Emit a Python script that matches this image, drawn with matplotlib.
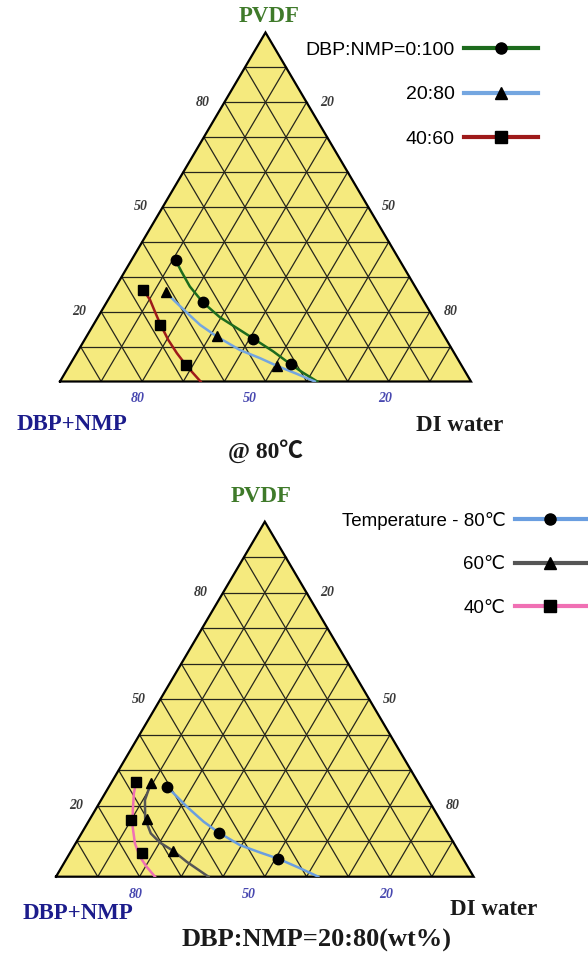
import numpy as np
import matplotlib
matplotlib.use('Agg')
import matplotlib.pyplot as plt
from matplotlib.lines import Line2D

# 上图: 80℃ 下不同 DBP:NMP 比例 (PVDF wt%, DI water wt%)
top_labels = ['DBP:NMP=0:100', '20:80', '40:60']
top_colors = ['#1d6b1d', '#74a6e0', '#9e1a1a']
top_markers = ['o', '^', 's']
top_pvdf = [[34.7, 22.7, 12.3, 4.9], [25.6, 12.9, 4.5], [26.3, 16.3, 4.7]]
top_water = [[10.8, 23.4, 40.9, 53.7], [13.0, 31.7, 50.5], [7.1, 16.3, 28.3]]
# 曲线
top_curve_pvdf = [[34.7, 31.5, 27.2, 22.7, 18.4, 15.3, 12.3, 8.6, 4.9, 2.5, 0],
                  [25.6, 23.4, 19.8, 16.2, 12.9, 9.0, 6.7, 4.5, 2.2, 0],
                  [26.3, 23.4, 20.0, 16.3, 11.9, 8.1, 4.7, 2.3, 0]]
top_curve_water = [[10.8, 13.8, 18.0, 23.4, 29.7, 35.4, 40.9, 47.6, 53.7, 57.9, 62.6],
                   [13.0, 15.9, 20.9, 26.0, 31.7, 39.3, 45.3, 50.5, 56.5, 62.0],
                   [7.1, 10.2, 13.1, 16.3, 20.4, 24.4, 28.3, 31.3, 34.2]]

# 下图: DBP:NMP=20:80 下不同温度
bot_labels = ['Temperature - 80\u2103', '60\u2103', '40\u2103']
bot_colors = ['#6a9ee0', '#555555', '#f070b4']
bot_markers = ['o', '^', 's']
bot_pvdf = [[25.4, 12.4, 5.1], [26.5, 16.3, 7.3], [26.8, 16.0, 6.6]]
bot_water = [[13.8, 32.8, 50.6], [9.5, 13.6, 24.4], [5.8, 9.9, 17.2]]
bot_curve_pvdf = [[25.4, 23.5, 19.7, 15.5, 12.4, 8.9, 6.8, 5.1, 2.4, 0],
                  [26.5, 21.6, 16.3, 12.2, 9.6, 7.3, 4.2, 0],
                  [26.8, 23.5, 18.8, 14.1, 9.4, 5.6, 2.8, 0]]
bot_curve_water = [[13.8, 16.4, 21.5, 27.6, 32.8, 39.6, 45.5, 50.6, 57.2, 62.8],
                   [9.5, 10.5, 13.2, 16.6, 20.1, 24.4, 29.2, 36.5],
                   [5.8, 6.9, 9.0, 11.3, 14.2, 17.3, 20.3, 23.7]]

side_ticks = [80, 50, 20]

SERIF = ['Liberation Serif', 'Noto Sans CJK SC']
SANS = ['Liberation Sans', 'DejaVu Sans']


def to_xy(p, w):
    p = np.asarray(p) / 100.0
    w = np.asarray(w) / 100.0
    return w + p / 2, p


def draw_ternary(ax, pvdf, water, cpvdf, cwater, colors, markers):
    ax.set_xlim(0, 1)
    ax.set_ylim(0, 1)
    ax.axis('off')
    ax.fill([0, 1, 0.5], [0, 0, 1], color='#f5ea7e', zorder=0)
    # 网格
    for k in range(1, 10):
        f = k / 10
        x, y = to_xy([f * 100, f * 100], [0, (1 - f) * 100])
        ax.plot(x, y, color='#26261c', lw=0.9, zorder=1)
        x, y = to_xy([0, (1 - f) * 100], [f * 100, f * 100])
        ax.plot(x, y, color='#26261c', lw=0.9, zorder=1)
        x, y = to_xy([0, (1 - f) * 100], [(1 - f) * 100, 0])
        ax.plot(x, y, color='#26261c', lw=0.9, zorder=1)
    ax.plot([0, 1, 0.5, 0], [0, 0, 1, 0], color='black', lw=1.6, zorder=2,
            solid_joinstyle='miter', clip_on=False)
    for i in range(len(pvdf)):
        x, y = to_xy(cpvdf[i], cwater[i])
        ax.plot(x, y, color=colors[i], lw=1.8, zorder=3, solid_joinstyle='round')
        x, y = to_xy(pvdf[i], water[i])
        ax.plot(x, y, ls='none', marker=markers[i], color='black', ms=7.5, zorder=4)
    # 刻度标签
    for v in side_ticks:
        x, y = to_xy(v, 0)
        ax.annotate(str(v), (x, y), xytext=(-22, 0), textcoords='offset pixels',
                    ha='center', va='center', family=SERIF, weight='bold',
                    style='italic', fontsize=10, color='#3a3a3a')
        x, y = to_xy(v, 100 - v)
        ax.annotate(str(100 - v), (x, y), xytext=(21, 0), textcoords='offset pixels',
                    ha='center', va='center', family=SERIF, weight='bold',
                    style='italic', fontsize=10, color='#3a3a3a')
    for v, pos in zip(side_ticks, [0.19, 0.462, 0.79]):
        ax.text(pos, -0.05, str(v), transform=ax.transAxes, ha='center', va='center',
                family=SERIF, weight='bold', style='italic', fontsize=10,
                color='#4848b0')


def add_legend(ax, labels, colors, markers, anchor, fs):
    handles = [Line2D([], [], color=c, lw=3, marker=m, mfc='black', mec='black', ms=8)
               for c, m in zip(colors, markers)]
    ax.legend(handles, labels, markerfirst=False, frameon=False, loc='upper right',
              bbox_to_anchor=anchor, bbox_transform=ax.figure.transFigure,
              borderaxespad=0, borderpad=0, handlelength=3.8, handletextpad=0.5,
              labelspacing=1.4, prop={'family': SANS, 'size': fs}, numpoints=1)


fig = plt.figure(figsize=(5.88, 9.56), dpi=100)

ax1 = fig.add_axes([60 / 588, 1 - 381.5 / 956, 411 / 588, 349 / 956])
draw_ternary(ax1, top_pvdf, top_water, top_curve_pvdf, top_curve_water,
             top_colors, top_markers)
ax1.text(0.508, 1.045, 'PVDF', transform=ax1.transAxes, ha='center', va='center',
         family=SERIF, weight='bold', fontsize=16.5, color='#3f7a2a')
ax1.text(0.03, -0.122, 'DBP+NMP', transform=ax1.transAxes, ha='center', va='center',
         family=SERIF, weight='bold', fontsize=16.5, color='#1c1c8c')
ax1.text(0.972, -0.125, 'DI water', transform=ax1.transAxes, ha='center', va='center',
         family=SERIF, weight='bold', fontsize=16.5, color='#1a1a1a')
ax1.text(0.5, -0.2, '@ 80\u2103', transform=ax1.transAxes, ha='center', va='center',
         family=SERIF, weight='bold', fontsize=17, color='#1a1a1a')
add_legend(ax1, top_labels, top_colors, top_markers, (538 / 588, 1 - 41 / 956), 14)

ax2 = fig.add_axes([56 / 588, 1 - 876.7 / 956, 417.6 / 588, 355 / 956])
draw_ternary(ax2, bot_pvdf, bot_water, bot_curve_pvdf, bot_curve_water,
             bot_colors, bot_markers)
ax2.text(0.49, 1.07, 'PVDF', transform=ax2.transAxes, ha='center', va='center',
         family=SERIF, weight='bold', fontsize=16.5, color='#3f7a2a')
ax2.text(0.052, -0.105, 'DBP+NMP', transform=ax2.transAxes, ha='center', va='center',
         family=SERIF, weight='bold', fontsize=16.5, color='#1c1c8c')
ax2.text(1.048, -0.091, 'DI water', transform=ax2.transAxes, ha='center', va='center',
         family=SERIF, weight='bold', fontsize=16.5, color='#1a1a1a')
ax2.text(0.623, -0.18, 'DBP:NMP=20:80(wt%)', transform=ax2.transAxes, ha='center',
         va='center', family=SERIF, weight='bold', fontsize=19, color='#1a1a1a')
add_legend(ax2, bot_labels, bot_colors, bot_markers, (586 / 588, 1 - 512 / 956), 13.5)

fig.savefig('out.png', dpi=100)
